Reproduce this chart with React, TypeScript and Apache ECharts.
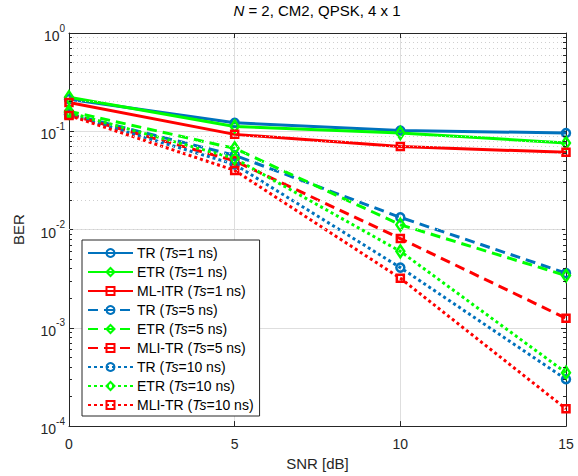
import React, { useEffect, useRef } from 'react';
import * as echarts from 'echarts';

const snr = [0, 5, 10, 15];
const xTicks = [0, 5, 10, 15];
const yDecades = [1e-4, 1e-3, 1e-2, 1e-1, 1];

const trTs1 = [0.212, 0.122, 0.102, 0.096];
const etrTs1 = [0.222, 0.112, 0.096, 0.076];
const mlitrTs1 = [0.196, 0.093, 0.07, 0.061];
const trTs5 = [0.15, 0.057, 0.0133, 0.0036];
const etrTs5 = [0.16, 0.067, 0.0112, 0.0034];
const mlitrTs5 = [0.148, 0.05, 0.0081, 0.00125];
const trTs10 = [0.148, 0.046, 0.0041, 0.0003];
const etrTs10 = [0.155, 0.053, 0.006, 0.00035];
const mlitrTs10 = [0.145, 0.04, 0.0032, 0.00015];

const names = [
  'TR (Ts=1 ns)', 'ETR (Ts=1 ns)', 'ML-ITR (Ts=1 ns)',
  'TR (Ts=5 ns)', 'ETR (Ts=5 ns)', 'MLI-TR (Ts=5 ns)',
  'TR (Ts=10 ns)', 'ETR (Ts=10 ns)', 'MLI-TR (Ts=10 ns)',
];
const values = [trTs1, etrTs1, mlitrTs1, trTs5, etrTs5, mlitrTs5, trTs10, etrTs10, mlitrTs10];

const BLUE = '#0072BD';
const GREEN = '#00FF00';
const RED = '#FF0000';
const FONT = '"Liberation Sans", Arial, Helvetica, sans-serif';

export default function App() {
  const ref = useRef<HTMLDivElement>(null);
  useEffect(() => {
    if (!ref.current) return;
    const chart = echarts.init(ref.current, undefined, { renderer: 'svg' });

    const colors = [BLUE, GREEN, RED];
    const symbols = ['circle', 'diamond', 'rect'];
    const symSizes: any[] = [8, [8, 12], 7];
    const lineTypes: any[] = ['solid', [10, 6], [3, 3]];

    const minorVals: number[] = [];
    yDecades.slice(0, -1).forEach((d) => {
      for (let k = 2; k <= 9; k++) minorVals.push(d * k);
    });

    const series: any[] = [
      {
        name: '__grid',
        type: 'line',
        data: [],
        z: 0,
        silent: true,
        markLine: {
          silent: true,
          symbol: 'none',
          label: { show: false },
          animation: false,
          lineStyle: { color: '#cfcfcf', width: 1, type: [1, 3] },
          emphasis: { disabled: true },
          data: minorVals.map((v) => ({ yAxis: v })),
        },
      },
      {
        name: '__ticks',
        type: 'line',
        data: [],
        z: 3,
        silent: true,
        markLine: {
          silent: true,
          symbol: 'none',
          label: { show: false },
          animation: false,
          lineStyle: { color: '#262626', width: 1, type: 'solid' },
          emphasis: { disabled: true },
          data: minorVals.flatMap((v) => [
            [{ coord: [0, v] }, { coord: [0.09, v] }],
            [{ coord: [14.91, v] }, { coord: [15, v] }],
          ]),
        },
      },
    ];

    names.forEach((name, i) => {
      const c = colors[i % 3];
      series.push({
        name,
        type: 'line',
        data: snr.map((x, j) => [x, values[i][j]]),
        symbol: symbols[i % 3],
        symbolSize: symSizes[i % 3],
        showAllSymbol: true,
        z: 2,
        lineStyle: { color: c, width: 3, type: lineTypes[Math.floor(i / 3)] },
        itemStyle: { color: 'rgba(255,255,255,0)', borderColor: c, borderWidth: 2.5 },
        emphasis: { disabled: true },
      });
    });

    const supLabel = (v: number) => {
      const e = Math.round(Math.log10(v));
      return `{b|10}{s|${e}}`;
    };

    chart.setOption({
      animation: false,
      textStyle: { fontFamily: FONT },
      title: {
        text: '{i|N} = 2, CM2, QPSK, 4 x 1',
        left: 317,
        top: 3,
        padding: 0,
        textAlign: 'center',
        textStyle: {
          fontSize: 15,
          fontWeight: 'normal',
          color: '#000',
          fontFamily: FONT,
          rich: { i: { fontStyle: 'italic', fontSize: 15, color: '#000', fontFamily: FONT } },
        },
      },
      legend: {
        data: names,
        orient: 'vertical',
        left: 82,
        top: 240,
        padding: [5, 6, 3, 5],
        itemGap: 3,
        itemWidth: 45,
        itemHeight: 10,
        backgroundColor: '#fff',
        borderColor: '#262626',
        borderWidth: 1,
        borderRadius: 0,
        selectedMode: false,
        formatter: (n: string) => n.replace('Ts', '{i|Ts}'),
        textStyle: {
          fontSize: 14,
          lineHeight: 16,
          color: '#000',
          fontFamily: FONT,
          padding: [0, 0, 0, -1],
          rich: { i: { fontStyle: 'italic', fontSize: 14, lineHeight: 16, color: '#000', fontFamily: FONT } },
        },
      },
      grid: { left: 69, right: 12, top: 33, bottom: 48, containLabel: false },
      xAxis: [
        {
          type: 'value',
          min: 0,
          max: 15,
          interval: 5,
          name: 'SNR [dB]',
          nameLocation: 'middle',
          nameGap: 29,
          nameTextStyle: { fontSize: 15, color: '#262626', fontFamily: FONT },
          axisLine: { show: true, onZero: false, lineStyle: { color: '#262626', width: 1 } },
          axisTick: { show: true, inside: true, length: 5, lineStyle: { color: '#262626' } },
          axisLabel: {
            fontSize: 14,
            color: '#262626',
            margin: 11,
            fontFamily: FONT,
            customValues: xTicks,
          },
          splitLine: { show: true, lineStyle: { color: '#dedede', width: 1 } },
        },
        {
          type: 'value',
          position: 'top',
          min: 0,
          max: 15,
          interval: 5,
          axisLine: { show: true, onZero: false, lineStyle: { color: '#262626', width: 1 } },
          axisTick: { show: true, inside: true, length: 5, lineStyle: { color: '#262626' } },
          axisLabel: { show: false },
          splitLine: { show: false },
        },
      ],
      yAxis: [
        {
          type: 'log',
          logBase: 10,
          min: 1e-4,
          max: 1,
          name: 'BER',
          nameLocation: 'middle',
          nameGap: 43,
          nameTextStyle: { fontSize: 15, color: '#262626', fontFamily: FONT },
          axisLine: { show: true, onZero: false, lineStyle: { color: '#262626', width: 1 } },
          axisTick: { show: true, inside: true, length: 5, lineStyle: { color: '#262626' } },
          axisLabel: {
            margin: 4,
            formatter: supLabel,
            rich: {
              b: { fontSize: 14, color: '#262626', fontFamily: FONT, verticalAlign: 'bottom', lineHeight: 20 },
              s: { fontSize: 10, color: '#262626', fontFamily: FONT, verticalAlign: 'top', lineHeight: 20 },
            },
          },
          splitLine: { show: true, lineStyle: { color: '#dedede', width: 1 } },
        },
        {
          type: 'log',
          logBase: 10,
          min: 1e-4,
          max: 1,
          position: 'right',
          axisLine: { show: true, onZero: false, lineStyle: { color: '#262626', width: 1 } },
          axisTick: { show: true, inside: true, length: 5, lineStyle: { color: '#262626' } },
          axisLabel: { show: false },
          splitLine: { show: false },
        },
      ],
      series,
    });

    return () => chart.dispose();
  }, []);

  return (
    <div
      ref={ref}
      style={{ position: 'fixed', left: 0, top: 0, width: 578, height: 476, background: '#fff' }}
    />
  );
}
